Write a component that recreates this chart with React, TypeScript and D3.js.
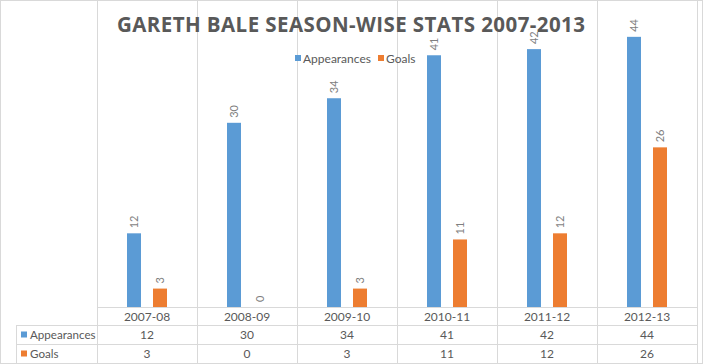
import { useEffect, useRef } from 'react'
import * as d3 from 'd3'

const seasons = ['2007-08', '2008-09', '2009-10', '2010-11', '2011-12', '2012-13']
const appearances = [12, 30, 34, 41, 42, 44]
const goals = [3, 0, 3, 11, 12, 26]
const seriesNames = ['Appearances', 'Goals']
const colors = ['#5B9BD5', '#ED7D31']

const W = 703
const H = 364
const FONT = 'Lato, "Open Sans", sans-serif'
const GRID = '#d9d9d9'
const TEXT = '#595959'

export default function App() {
  const svgRef = useRef<SVGSVGElement>(null)

  useEffect(() => {
    document.body.style.margin = '0'
    if (!svgRef.current) return
    const svg = d3.select(svgRef.current)
    svg.selectAll('*').remove()

    const plotLeft = 97, plotRight = 697, baseY = 307
    const rowH = [307, 325, 344, 363]

    const x0 = d3.scaleBand().domain(seasons).range([plotLeft, plotRight])
    const x1 = d3.scaleBand().domain(seriesNames).range([30, 70]).paddingInner(12 / 26)
    const y = d3.scaleLinear().domain([0, 50]).range([baseY, 0])

    const values = [appearances, goals]

    // outer border
    svg.append('rect').attr('x', 0.5).attr('y', 0.5).attr('width', W - 1).attr('height', H - 1)
      .attr('fill', '#fff').attr('stroke', GRID)

    // vertical grid lines through the plot and table
    const bounds = [...seasons.map(s => x0(s)!), plotRight]
    svg.append('g').selectAll('line').data(bounds).join('line')
      .attr('x1', d => d + 0.5).attr('x2', d => d + 0.5)
      .attr('y1', 0).attr('y2', rowH[3])
      .attr('stroke', GRID)

    // table horizontal lines
    svg.append('line').attr('x1', plotLeft).attr('x2', plotRight).attr('y1', rowH[0] + 0.5).attr('y2', rowH[0] + 0.5).attr('stroke', GRID)
    ;[rowH[1], rowH[2]].forEach(r => {
      svg.append('line').attr('x1', 16).attr('x2', plotRight).attr('y1', r + 0.5).attr('y2', r + 0.5).attr('stroke', GRID)
    })
    svg.append('line').attr('x1', 16.5).attr('x2', 16.5).attr('y1', rowH[1]).attr('y2', rowH[3]).attr('stroke', GRID)

    // bars
    values.forEach((vals, si) => {
      const g = svg.append('g')
      g.selectAll('rect').data(vals).join('rect')
        .attr('x', (_, i) => x0(seasons[i])! + x1(seriesNames[si])!)
        .attr('y', d => y(d))
        .attr('width', x1.bandwidth())
        .attr('height', d => baseY - y(d))
        .attr('fill', colors[si])
      g.selectAll('text').data(vals).join('text')
        .attr('transform', (d, i) => {
          const cx = x0(seasons[i])! + x1(seriesNames[si])! + x1.bandwidth() / 2 + 4
          return `translate(${cx},${y(d) - 5}) rotate(-90)`
        })
        .attr('font-family', FONT).attr('font-size', 11).attr('fill', '#7f7f7f')
        .text(d => d)
    })

    // category labels
    svg.append('g').selectAll('text').data(seasons).join('text')
      .attr('x', d => x0(d)! + x0.bandwidth() / 2).attr('y', 321)
      .attr('text-anchor', 'middle').attr('font-family', FONT).attr('font-size', 12).attr('fill', TEXT)
      .text(d => d)

    // table rows
    values.forEach((vals, si) => {
      const cy = (rowH[si + 1] + rowH[si + 2]) / 2
      svg.append('rect').attr('x', 21).attr('y', cy - 3).attr('width', 6).attr('height', 6).attr('fill', colors[si])
      svg.append('text').attr('x', 30).attr('y', cy + 4.5)
        .attr('font-family', FONT).attr('font-size', 11.6).attr('fill', TEXT).text(seriesNames[si])
      svg.append('g').selectAll('text').data(vals).join('text')
        .attr('x', (_, i) => x0(seasons[i])! + x0.bandwidth() / 2).attr('y', cy + 4.5)
        .attr('text-anchor', 'middle').attr('font-family', FONT).attr('font-size', 12).attr('fill', TEXT)
        .text(d => d)
    })

    // title
    svg.append('text').attr('x', 117).attr('y', 32)
      .attr('textLength', 468).attr('lengthAdjust', 'spacing')
      .attr('font-family', '"Open Sans", sans-serif').attr('font-weight', 700).attr('font-size', 20.5)
      .attr('fill', TEXT)
      .text('GARETH BALE SEASON-WISE STATS 2007-2013')

    // legend
    const legend = svg.append('g').attr('transform', 'translate(295,58)')
    const legX = [0, 83]
    seriesNames.forEach((n, i) => {
      legend.append('rect').attr('x', legX[i]).attr('y', -3).attr('width', 6).attr('height', 6).attr('fill', colors[i])
      legend.append('text').attr('x', legX[i] + 8).attr('y', 4.5)
        .attr('font-family', FONT).attr('font-size', 12).attr('fill', TEXT).text(n)
    })
  }, [])

  return <svg ref={svgRef} width={W} height={H} style={{ display: 'block' }} />
}
